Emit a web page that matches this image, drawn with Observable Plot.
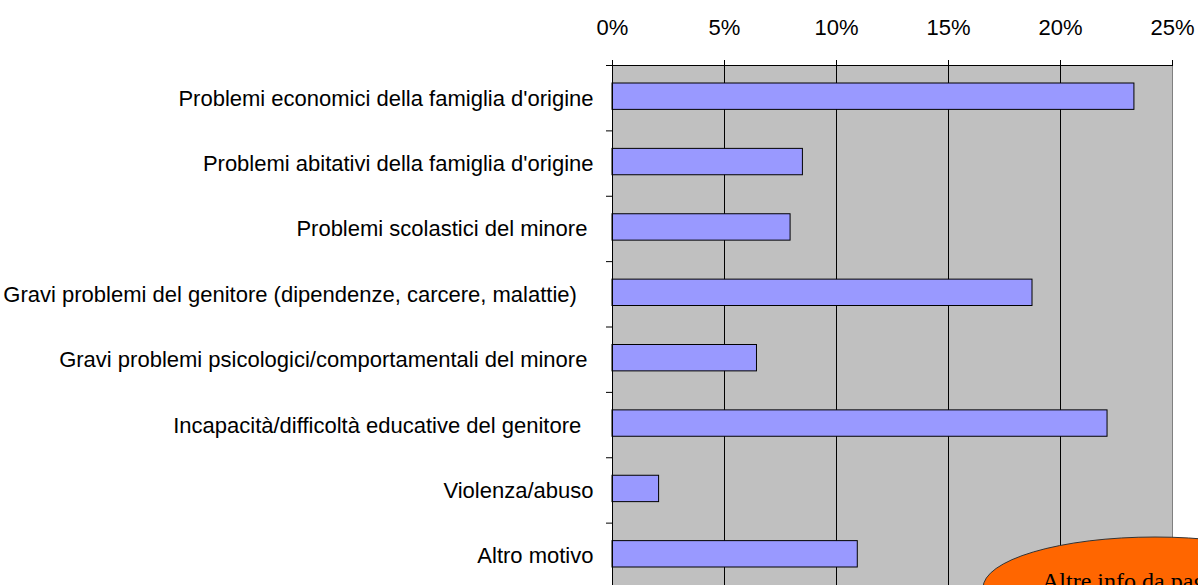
<!DOCTYPE html>
<html><head><meta charset="utf-8">
<script src="https://cdn.jsdelivr.net/npm/d3@7"></script>
<script src="https://cdn.jsdelivr.net/npm/@observablehq/plot@0.6"></script>
<style>
html,body{margin:0;padding:0;background:#fff;overflow:hidden;}
#wrap{position:relative;width:1198px;height:585px;overflow:hidden;}
</style></head><body><div id="wrap"></div>
<script>
const categories = [
  "Problemi economici della famiglia d'origine",
  "Problemi abitativi della famiglia d'origine",
  "Problemi scolastici del minore",
  "Gravi problemi del genitore (dipendenze, carcere, malattie)",
  "Gravi problemi psicologici/comportamentali del minore",
  "Incapacità/difficoltà educative del genitore",
  "Violenza/abuso",
  "Altro motivo"
];
// trailing spaces as in the original labels
const trailing = ["", "", "\u00A0", "\u00A0\u00A0\u2009", "\u00A0", "\u00A0\u00A0", "", ""];
const values = [23.3, 8.5, 7.95, 18.75, 6.45, 22.1, 2.08, 10.95];
const xTicks = [0, 5, 10, 15, 20, 25];
const noteText = "Altre info da pagina";

const data = categories.map((c, i) => ({i, label: c + trailing[i], v: values[i]}));

const chart = Plot.plot({
  width: 1198, height: 600,
  marginLeft: 612, marginRight: 26, marginTop: 65, marginBottom: 12,
  style: {fontFamily: "'Liberation Sans', Arial, sans-serif", fontSize: "22px", color: "#000", background: "#fff"},
  x: {domain: [0, 25], axis: null, label: null},
  y: {domain: [0, categories.length], reverse: true, axis: null, label: null},
  marks: [
    Plot.frame({fill: "#C0C0C0", stroke: "#808080"}),
    Plot.ruleX(xTicks.slice(1, -1), {stroke: "#000"}),
    Plot.rect(data, {x1: () => 0, x2: "v", y1: "i", y2: d => d.i + 1, insetTop: 18, insetBottom: 21, fill: "#9999FF", stroke: "#000", strokeWidth: 1}),
    Plot.ruleY([0], {stroke: "#000"}),
    Plot.ruleX([0], {stroke: "#000"}),
    Plot.axisX({anchor: "top", ticks: xTicks, tickFormat: d => d + "%", tickSize: 6, tickPadding: 25, fontSize: 22, label: null}),
    Plot.axisY({anchor: "left", ticks: d3.range(0, categories.length + 1), tickFormat: () => "", tickSize: 6, label: null}),
    Plot.text(data, {y: d => d.i + 0.5, frameAnchor: "left", text: "label", textAnchor: "end", dx: -19, dy: 0.5, fontSize: 22})
  ]
});

const svg = d3.select(chart);
const note = svg.append("g");
note.append("ellipse").attr("cx", 1155).attr("cy", 588).attr("rx", 172).attr("ry", 51)
  .attr("fill", "#FF6600").attr("stroke", "#333").attr("stroke-width", 1);
note.append("text").attr("x", 1042).attr("y", 589)
  .attr("text-anchor", "start")
  .attr("font-family", "'Liberation Serif', 'Times New Roman', serif").attr("font-size", 24)
  .attr("fill", "#000").text(noteText);

document.getElementById("wrap").appendChild(chart);
</script>
</body></html>
